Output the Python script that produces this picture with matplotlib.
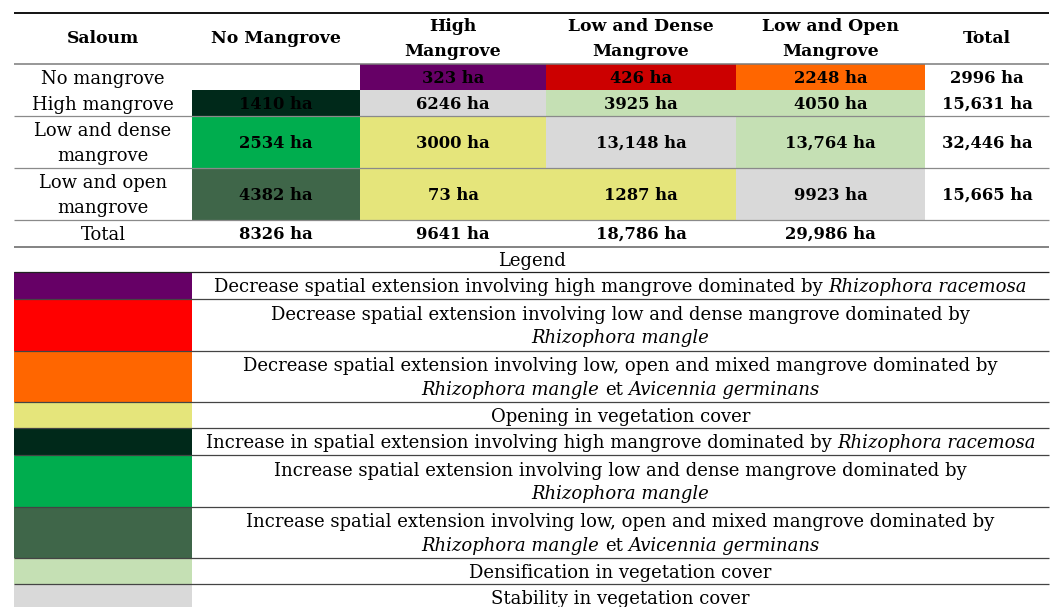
import matplotlib
matplotlib.use("Agg")
import matplotlib.pyplot as plt
from matplotlib.patches import Rectangle

# ---------------- data ----------------
col_headers = ["Saloum", "No Mangrove", "High\nMangrove", "Low and Dense\nMangrove",
               "Low and Open\nMangrove", "Total"]
row_labels = ["No mangrove", "High mangrove", "Low and dense\nmangrove",
              "Low and open\nmangrove", "Total"]
values = [
    [None, 323, 426, 2248, 2996],
    [1410, 6246, 3925, 4050, 15631],
    [2534, 3000, 13148, 13764, 32446],
    [4382, 73, 1287, 9923, 15665],
    [8326, 9641, 18786, 29986, None],
]
cell_classes = [
    [None, "dec_high", "dec_dense_tbl", "dec_open", None],
    ["inc_high", "stable", "dense", "dense", None],
    ["inc_dense", "open", "stable", "dense", None],
    ["inc_open", "open", "open", "stable", None],
    [None, None, None, None, None],
]
class_colors = {
    "dec_high": "#660066",
    "dec_dense_tbl": "#CC0000",
    "dec_dense": "#FF0000",
    "dec_open": "#FF6600",
    "open": "#E5E57B",
    "inc_high": "#00291A",
    "inc_dense": "#00AD4E",
    "inc_open": "#3F6649",
    "dense": "#C5E0B4",
    "stable": "#D9D9D9",
}
legend_title = "Legend"
legend_keys = ["dec_high", "dec_dense", "dec_open", "open", "inc_high",
               "inc_dense", "inc_open", "dense", "stable"]
# each entry: list of lines, each line a list of (text, italic)
legend_texts = [
    [[("Decrease spatial extension involving high mangrove dominated by", False),
      ("Rhizophora racemosa", True)]],
    [[("Decrease spatial extension involving low and dense mangrove dominated by", False)],
     [("Rhizophora mangle", True)]],
    [[("Decrease spatial extension involving low, open and mixed mangrove dominated by", False)],
     [("Rhizophora mangle", True), ("et", False), ("Avicennia germinans", True)]],
    [[("Opening in vegetation cover", False)]],
    [[("Increase in spatial extension involving high mangrove dominated by", False),
      ("Rhizophora racemosa", True)]],
    [[("Increase spatial extension involving low and dense mangrove dominated by", False)],
     [("Rhizophora mangle", True)]],
    [[("Increase spatial extension involving low, open and mixed mangrove dominated by", False)],
     [("Rhizophora mangle", True), ("et", False), ("Avicennia germinans", True)]],
    [[("Densification in vegetation cover", False)]],
    [[("Stability in vegetation cover", False)]],
]


def fmt(v):
    if v is None:
        return ""
    return f"{v:,} ha" if v >= 10000 else f"{v} ha"


# ---------------- layout ----------------
W, H = 1064, 607
FONT = "DejaVu Serif"
FS = 13.0          # body font size (pt)
FS_H = 12.4        # bold header size (pt)
FS_V = 11.8        # bold value size (pt)
LINE_GAP = 25

col_edges = [14, 192, 360, 546, 736, 925, 1049]
table_rows = [12, 64, 90, 116, 168, 220, 246]     # header, 4 rows, total
legend_head = (246, 272)
legend_rows = [272, 299, 351, 402, 428, 455, 507, 558, 584, 610]

fig = plt.figure(figsize=(W / 100, H / 100), dpi=100)
ax = fig.add_axes([0, 0, 1, 1])
ax.set_xlim(0, W)
ax.set_ylim(H, 0)
ax.axis("off")
renderer = fig.canvas.get_renderer()


def base_off(size_pt):
    return 0.36 * size_pt * 100 / 72


def draw_lines(xc, yc, lines, bold=False, size=FS):
    n = len(lines)
    for i, ln in enumerate(lines):
        y = yc + (i - (n - 1) / 2) * LINE_GAP
        ax.text(xc, y + base_off(size), ln, ha="center", va="baseline",
                fontsize=size, family=FONT, fontweight="bold" if bold else "normal",
                color="black")


def space_width(size):
    t1 = ax.text(0, 0, "x x", fontsize=size, family=FONT)
    t2 = ax.text(0, 0, "xx", fontsize=size, family=FONT)
    w = t1.get_window_extent(renderer).width - t2.get_window_extent(renderer).width
    t1.remove(); t2.remove()
    return w


SP = space_width(FS)


def draw_segments(xc, y, segs, size=FS):
    texts = []
    for s, it in segs:
        t = ax.text(0, y + base_off(size), s, fontsize=size, family=FONT,
                    style="italic" if it else "normal", ha="left", va="baseline")
        texts.append(t)
    widths = [t.get_window_extent(renderer).width for t in texts]
    total = sum(widths) + SP * (len(texts) - 1)
    x = xc - total / 2
    for t, w in zip(texts, widths):
        t.set_x(x)
        x += w + SP


# ---- table cells ----
for r in range(len(row_labels)):
    y0, y1 = table_rows[r + 1], table_rows[r + 2]
    for c in range(len(values[r])):
        x0, x1 = col_edges[c + 1], col_edges[c + 2]
        key = cell_classes[r][c]
        if key:
            ax.add_patch(Rectangle((x0, y0), x1 - x0, y1 - y0,
                                   facecolor=class_colors[key], edgecolor="none", zorder=1))
        txt = fmt(values[r][c])
        if txt:
            draw_lines((x0 + x1) / 2, (y0 + y1) / 2, [txt], bold=True, size=FS_V)
    draw_lines((col_edges[0] + col_edges[1]) / 2, (y0 + y1) / 2,
               row_labels[r].split("\n"))

# ---- header ----
for c, h in enumerate(col_headers):
    xc = (col_edges[c] + col_edges[c + 1]) / 2
    draw_lines(xc, (table_rows[0] + table_rows[1]) / 2 - 1, h.split("\n"), bold=True, size=FS_H)

# ---- legend ----
draw_lines((col_edges[0] + col_edges[-1]) / 2, sum(legend_head) / 2, [legend_title])
for i, key in enumerate(legend_keys):
    y0, y1 = legend_rows[i], legend_rows[i + 1]
    ax.add_patch(Rectangle((col_edges[0], y0), col_edges[1] - col_edges[0], y1 - y0,
                           facecolor=class_colors[key], edgecolor="none", zorder=1))
    lines = legend_texts[i]
    n = len(lines)
    yc = (y0 + y1) / 2
    for j, segs in enumerate(lines):
        draw_segments((col_edges[1] + col_edges[-1]) / 2,
                      yc + (j - (n - 1) / 2) * 23.5, segs)

# ---- rules ----
def hline(y, color, lw):
    ax.plot([col_edges[0], col_edges[-1]], [y, y], color=color, lw=lw,
            solid_capstyle="butt", zorder=3)

hline(12.5, "black", 1.3)
hline(64, "#7a7a7a", 1.1)
for y in [116, 168, 220]:
    hline(y, "#8a8a8a", 0.9)
hline(246.5, "#7a7a7a", 1.3)
hline(272, "#222222", 0.9)
for y in legend_rows[1:-1]:
    hline(y, "#444444", 0.9)

fig.savefig("out.png", dpi=100)
